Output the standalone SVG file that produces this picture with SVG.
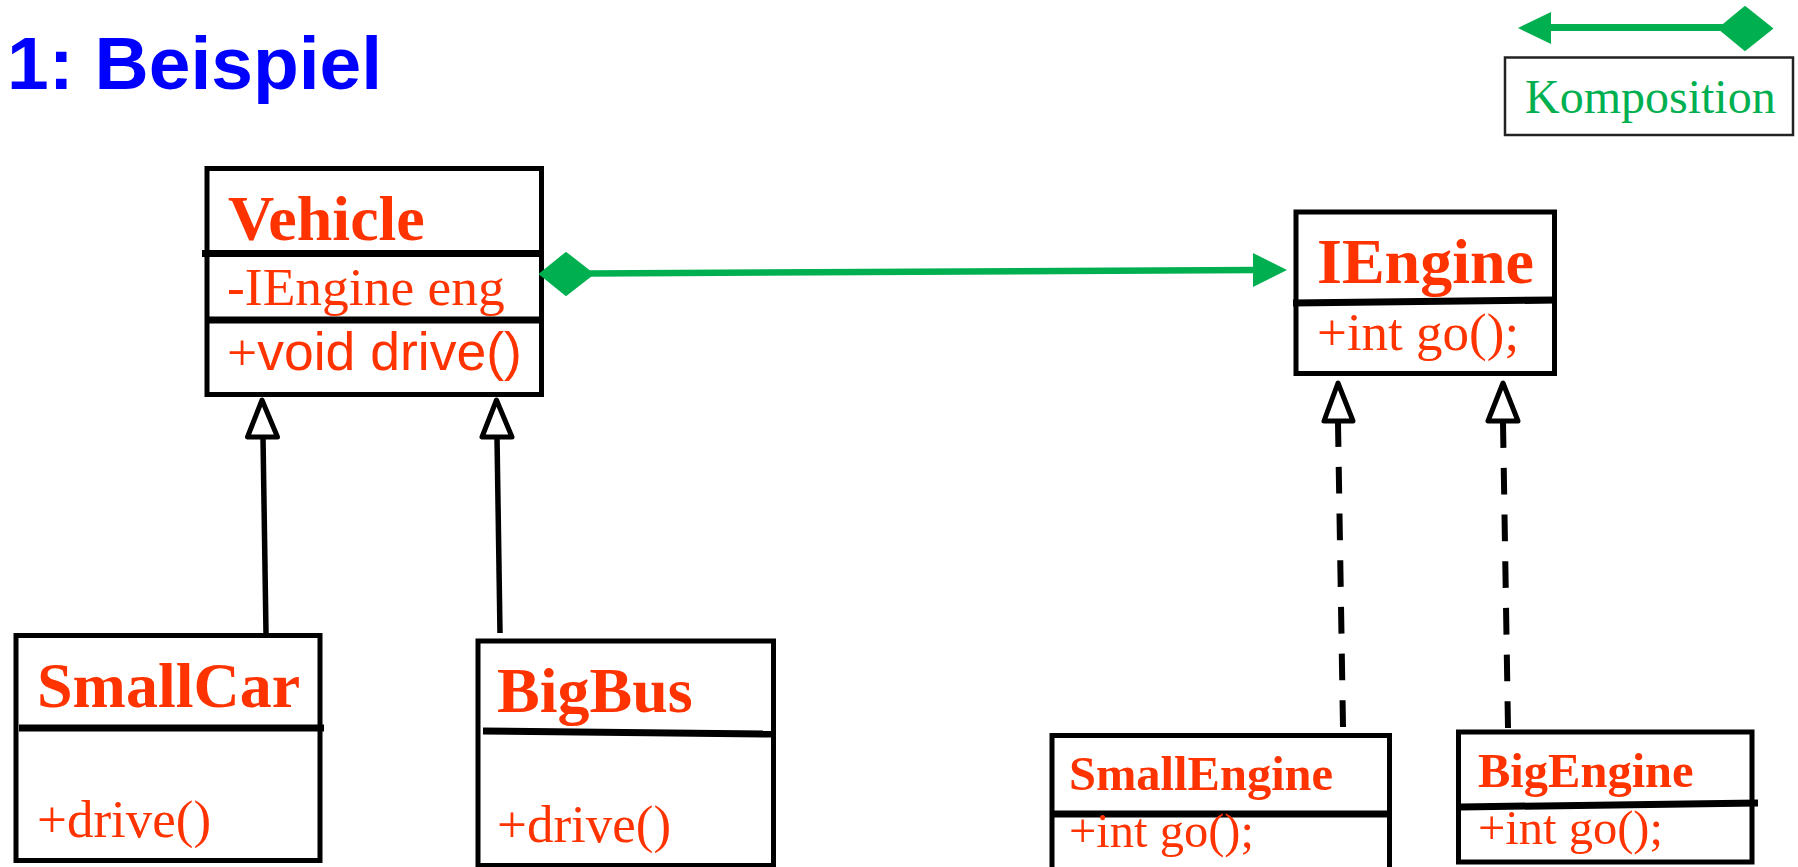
<svg xmlns="http://www.w3.org/2000/svg" width="1798" height="867" viewBox="0 0 1798 867">
<style>
.box{fill:#fff;stroke:#000;stroke-width:5}
.div{stroke:#000;stroke-width:7;fill:none}
.name{font-family:"Liberation Serif","Times New Roman",serif;font-weight:bold;fill:#FF3300}
.mem{font-family:"Liberation Serif","Times New Roman",serif;fill:#FF3300}
.sans{font-family:"Liberation Sans",Arial,sans-serif;fill:#FF3300}
.inh{stroke:#000;stroke-width:5.5;fill:none}
.tri{fill:#fff;stroke:#000;stroke-width:5;stroke-linejoin:round}
.real{stroke:#000;stroke-width:6;fill:none;stroke-dasharray:26.7 20}
.green{fill:#00B050}
</style>
<text x="7" y="89" font-family="'Liberation Sans',Arial,sans-serif" font-weight="bold" font-size="75" fill="#0000FF">1: Beispiel</text>
<g id="legend">
<line x1="1545" y1="27.5" x2="1725" y2="27.5" stroke="#00B050" stroke-width="7"/>
<polygon class="green" points="1518,28 1551,12 1551,44"/>
<polygon class="green" points="1719,28.5 1745,7 1772,28.5 1745,50" stroke="#00B050" stroke-width="2" stroke-linejoin="round"/>
<rect x="1505" y="57.5" width="288" height="77.5" fill="#fff" stroke="#222" stroke-width="2.5"/>
<text x="1525" y="113" font-family="'Liberation Serif','Times New Roman',serif" font-size="48" fill="#00B050">Komposition</text>
</g>
<g id="Vehicle">
<rect class="box" x="207" y="168.5" width="334.5" height="226"/>
<line class="div" x1="202" y1="253.5" x2="539" y2="253.5"/>
<line class="div" x1="207" y1="320" x2="539" y2="320" stroke-width="6"/>
<text class="name" x="228" y="240" font-size="64">Vehicle</text>
<text class="mem" x="227" y="305" font-size="53.5">-IEngine eng</text>
<text class="sans" x="227" y="370" font-size="53.5"><tspan font-family="'Liberation Serif','Times New Roman',serif">+</tspan>void drive()</text>
</g>
<g id="IEngine">
<rect class="box" x="1296" y="212" width="258.5" height="161.5" stroke-width="6"/>
<line class="div" x1="1293" y1="303" x2="1557" y2="300" stroke-width="8"/>
<text class="name" x="1317" y="283" font-size="64">IEngine</text>
<text class="mem" x="1317" y="350" font-size="53">+int go();</text>
</g>
<g id="SmallCar">
<rect class="box" x="16" y="635.5" width="304" height="225"/>
<line class="div" x1="19" y1="728" x2="324" y2="728"/>
<text class="name" x="37" y="707" font-size="64">SmallCar</text>
<text class="mem" x="37" y="837" font-size="53">+drive()</text>
</g>
<g id="BigBus">
<rect class="box" x="478" y="641" width="295.5" height="224.5"/>
<line class="div" x1="483" y1="731" x2="771" y2="734"/>
<text class="name" x="497" y="712" font-size="64">BigBus</text>
<text class="mem" x="497" y="842" font-size="53">+drive()</text>
</g>
<g id="SmallEngine">
<rect class="box" x="1052" y="735.5" width="337.5" height="140"/>
<line class="div" x1="1052" y1="814" x2="1392" y2="814" stroke-width="6"/>
<text class="name" x="1069" y="790" font-size="48.5">SmallEngine</text>
<text class="mem" x="1069" y="847" font-size="48.5">+int go();</text>
</g>
<g id="BigEngine">
<rect class="box" x="1458.5" y="732" width="293.5" height="130"/>
<line class="div" x1="1461" y1="807" x2="1758" y2="803" stroke-width="6"/>
<text class="name" x="1478" y="787" font-size="48.5">BigEngine</text>
<text class="mem" x="1478" y="844" font-size="48.5">+int go();</text>
</g>
<g id="connectors">
<line x1="590" y1="273.5" x2="1256" y2="270" stroke="#00B050" stroke-width="6.5"/>
<polygon class="green" points="540,274 566,253 593,274 566,295" stroke="#00B050" stroke-width="2" stroke-linejoin="round"/>
<polygon class="green" points="1253,253 1287,270 1253,287"/>
<line class="inh" x1="263" y1="437" x2="266" y2="633"/>
<polygon class="tri" points="262,400 247.5,437 277.5,437"/>
<line class="inh" x1="497" y1="437" x2="500" y2="633"/>
<polygon class="tri" points="496.5,400 482,437 512,437"/>
<line class="real" x1="1343" y1="727" x2="1338" y2="423"/>
<polygon class="tri" points="1338,383 1324,421 1353,421"/>
<line class="real" x1="1508" y1="728" x2="1503" y2="423"/>
<polygon class="tri" points="1503,383 1488,421 1518,421"/>
</g>
</svg>
